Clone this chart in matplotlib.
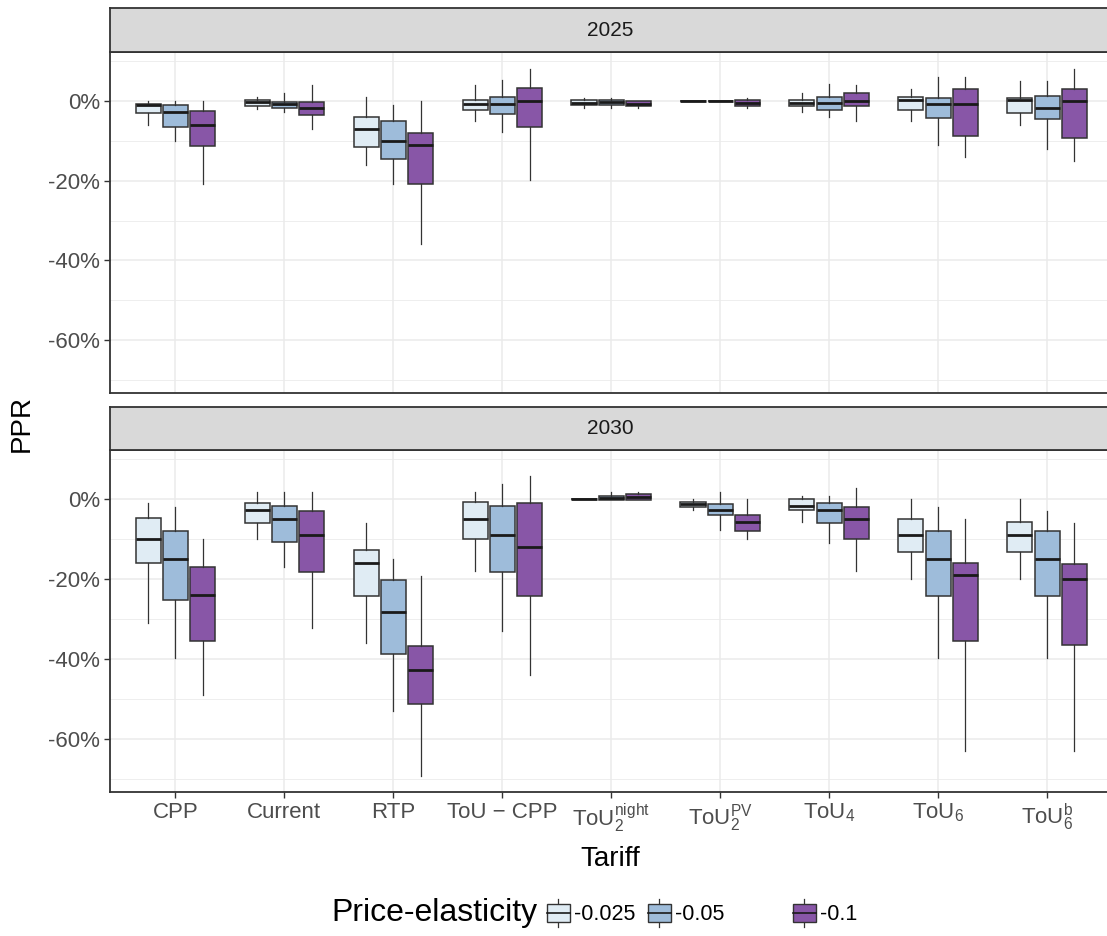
import matplotlib
matplotlib.use("Agg")
import matplotlib.pyplot as plt
from matplotlib.patches import Rectangle, Patch
from matplotlib.lines import Line2D
from matplotlib.legend_handler import HandlerBase

plt.rcParams['font.family'] = ['Liberation Sans', 'DejaVu Sans']
plt.rcParams['mathtext.fontset'] = 'custom'
plt.rcParams['mathtext.rm'] = 'Liberation Sans'
plt.rcParams['mathtext.it'] = 'Liberation Sans:italic'
plt.rcParams['mathtext.default'] = 'regular'

# ---------------- data ----------------
tariffs = ["CPP", "Current", "RTP", "ToU \u2212 CPP", r"ToU$_2^{night}$",
           r"ToU$_2^{PV}$", r"ToU$_4$", r"ToU$_6$", r"ToU$_6^{b}$"]
elasticities = ["-0.025", "-0.05", "-0.1"]
years = ["2025", "2030"]

# each row = tariff, columns = elasticity (-0.025, -0.05, -0.1); values in %
med_2025 = [[-1.0, -2.9, -6.0], [-0.4, -0.8, -1.9], [-7.1, -10.0, -11.1],
            [-0.8, -0.8, 0.0], [-0.6, -0.4, -0.7], [0.0, 0.0, -0.6],
            [-0.6, -0.5, 0.0], [0.2, -0.8, -0.8], [0.2, -1.9, 0.0]]
q1_2025 = [[-3.2, -6.7, -11.4], [-1.25, -1.7, -3.6], [-11.7, -14.7, -20.8],
           [-2.25, -3.3, -6.7], [-1.1, -1.1, -1.25], [0.0, 0.0, -1.25],
           [-1.25, -2.25, -1.25], [-2.25, -4.3, -8.75], [-3.2, -4.6, -9.3]]
q3_2025 = [[-0.8, -1.1, -2.5], [0.25, -0.2, -0.2], [-4.2, -5.2, -8.2],
           [0.25, 1.0, 3.3], [0.2, 0.2, -0.1], [0.0, 0.0, 0.2],
           [0.2, 1.0, 1.9], [1.0, 0.8, 2.9], [0.8, 1.25, 2.9]]
lo_2025 = [[-6.0, -10.0, -20.8], [-2.0, -2.9, -7.0], [-16.2, -20.8, -36.0],
           [-5.0, -7.9, -19.8], [-1.8, -1.8, -1.8], [0.0, 0.0, -1.8],
           [-2.9, -4.0, -5.0], [-5.0, -11.1, -14.2], [-6.0, -12.2, -15.0]]
hi_2025 = [[0.0, 0.0, 0.0], [1.0, 2.0, 4.0], [1.0, -1.0, 0.0],
           [4.0, 5.2, 8.0], [0.8, 0.8, 0.0], [0.0, 0.0, 0.8],
           [1.9, 4.2, 4.0], [3.0, 6.0, 6.0], [5.0, 5.0, 8.0]]

med_2030 = [[-9.9, -14.9, -24.0], [-2.8, -5.0, -9.0], [-15.9, -28.2, -42.8],
            [-5.0, -9.0, -11.9], [0.0, 0.25, 0.5], [-1.4, -2.9, -5.8],
            [-1.8, -2.9, -5.0], [-9.0, -14.9, -19.1], [-9.0, -14.9, -20.1]]
q1_2030 = [[-15.9, -25.3, -35.4], [-6.0, -10.8, -18.2], [-24.2, -38.7, -51.3],
           [-10.1, -18.2, -24.2], [0.0, -0.2, -0.2], [-2.1, -4.1, -8.0],
           [-2.8, -6.1, -9.9], [-13.2, -24.2, -35.6], [-13.2, -24.2, -36.5]]
q3_2030 = [[-4.7, -8.0, -17.1], [-1.0, -1.7, -3.1], [-12.8, -20.3, -36.7],
           [-0.7, -1.8, -1.0], [0.0, 0.6, 1.1], [-0.7, -1.2, -4.1],
           [0.0, -1.0, -2.1], [-5.0, -8.0, -15.9], [-5.8, -8.0, -16.2]]
lo_2030 = [[-31.0, -39.8, -48.9], [-9.9, -16.9, -32.2], [-36.0, -52.9, -69.1],
           [-18.0, -33.0, -43.9], [0.0, -0.2, -0.2], [-2.8, -7.9, -9.9],
           [-5.8, -10.9, -18.0], [-19.9, -39.8, -63.0], [-19.9, -39.8, -63.0]]
hi_2030 = [[-1.0, -2.0, -10.1], [1.7, 1.7, 1.7], [-6.0, -15.1, -19.2],
           [1.7, 3.7, 5.8], [0.0, 1.7, 1.7], [0.0, 1.7, 0.0],
           [0.7, 0.7, 2.6], [0.0, -2.0, -5.0], [0.0, -3.1, -6.1]]

stats_by_year = {
    "2025": (med_2025, q1_2025, q3_2025, lo_2025, hi_2025),
    "2030": (med_2030, q1_2030, q3_2030, lo_2030, hi_2030),
}

colors = ["#e0ecf4", "#9ebcda", "#8856a7"]
edge = "#333333"
offsets = [-0.25, 0.0, 0.25]
box_w = 0.23

W, H = 1107, 936
fig = plt.figure(figsize=(W / 100, H / 100), dpi=100)

def fx(px):
    return px / W

def fy(py):
    return 1 - py / H

ax_left = 110
ax_right = 1112.5
panels = [("2025", 8, 52, 393), ("2030", 407, 450, 792)]

for i, (yr, strip_top, ptop, pbot) in enumerate(panels):
    ax = fig.add_axes([fx(ax_left), fy(pbot), fx(ax_right - ax_left), (pbot - ptop) / H])
    med, q1, q3, lo, hi = stats_by_year[yr]
    for j in range(len(elasticities)):
        bxp_stats = []
        pos = []
        for t in range(len(tariffs)):
            bxp_stats.append(dict(med=med[t][j], q1=q1[t][j], q3=q3[t][j],
                                  whislo=lo[t][j], whishi=hi[t][j], fliers=[]))
            pos.append(t + 1 + offsets[j])
        ax.bxp(bxp_stats, positions=pos, widths=box_w, patch_artist=True,
               showcaps=False, showfliers=False,
               boxprops=dict(facecolor=colors[j], edgecolor=edge, linewidth=1.1),
               whiskerprops=dict(color=edge, linewidth=0.9),
               medianprops=dict(color="#1a1a1a", linewidth=2.0, solid_capstyle='butt'),
               zorder=3)
    ax.set_xlim(0.4, len(tariffs) + 0.6)
    ax.set_ylim(-73.2, 12.2)
    ax.set_yticks([-60, -40, -20, 0])
    ax.set_yticklabels(["-60%", "-40%", "-20%", "0%"])
    ax.set_yticks([-70, -50, -30, -10, 10], minor=True)
    ax.set_xticks(range(1, len(tariffs) + 1))
    ax.grid(True, which='major', color="#ebebeb", linewidth=1.1, zorder=0)
    ax.grid(True, which='minor', axis='y', color="#ebebeb", linewidth=0.6, zorder=0)
    ax.set_axisbelow(True)
    ax.tick_params(axis='both', which='major', length=4, width=1.0, color=edge,
                   labelsize=16, labelcolor="#4d4d4d", pad=3)
    ax.tick_params(axis='both', which='minor', length=0)
    for s in ax.spines.values():
        s.set_color(edge)
        s.set_linewidth(1.3)
    if i == 0:
        ax.tick_params(axis='x', which='both', length=0, labelbottom=False)
    else:
        ax.set_xticklabels(tariffs)
        ax.tick_params(axis='x', pad=3)

    # strip
    sax = fig.add_axes([fx(ax_left), fy(ptop), fx(ax_right - ax_left), (ptop - strip_top) / H])
    sax.set_facecolor("#d9d9d9")
    sax.set_xticks([])
    sax.set_yticks([])
    for s in sax.spines.values():
        s.set_color(edge)
        s.set_linewidth(1.3)
    sax.text((610 - ax_left) / (ax_right - ax_left), 0.5, yr, ha='center', va='center',
             fontsize=15, color="#1a1a1a", transform=sax.transAxes)

fig.text(fx(22), fy(423), "PPR", rotation=90, ha='center', va='center', fontsize=20)
fig.text(fx(610), fy(859), "Tariff", ha='center', va='center', fontsize=20)


class BoxHandler(HandlerBase):
    def create_artists(self, legend, orig_handle, xdescent, ydescent, width, height,
                       fontsize, trans):
        x0, y0 = -xdescent, -ydescent
        fc = orig_handle.get_facecolor()
        bw = width * 0.9
        bx = x0 + (width - bw) / 2
        rect = Rectangle((bx, y0 + 0.15 * height), bw, 0.7 * height,
                         facecolor=fc, edgecolor=edge, linewidth=1.0, transform=trans)
        cx = x0 + width / 2
        med = Line2D([bx, bx + bw], [y0 + 0.5 * height] * 2, color="#1a1a1a",
                     linewidth=1.2, transform=trans)
        w1 = Line2D([cx, cx], [y0 - 0.05 * height, y0 + 0.15 * height], color=edge,
                    linewidth=0.9, transform=trans)
        w2 = Line2D([cx, cx], [y0 + 0.85 * height, y0 + 1.05 * height], color=edge,
                    linewidth=0.9, transform=trans)
        return [w1, w2, rect, med]


fig.text(fx(538), fy(913), "Price-elasticity", ha='right', va='center', fontsize=23)
key_x = [546, 647, 792]
for c, lab, kx in zip(colors, elasticities, key_x):
    fig.legend([Patch(facecolor=c, edgecolor=edge)], [lab], loc='center left',
               bbox_to_anchor=(fx(kx), fy(913)), frameon=False, fontsize=15.5,
               handler_map={Patch: BoxHandler()}, handlelength=1.15, handleheight=1.4,
               handletextpad=0.15, borderaxespad=0, borderpad=0)

fig.savefig("out.png", dpi=100)
